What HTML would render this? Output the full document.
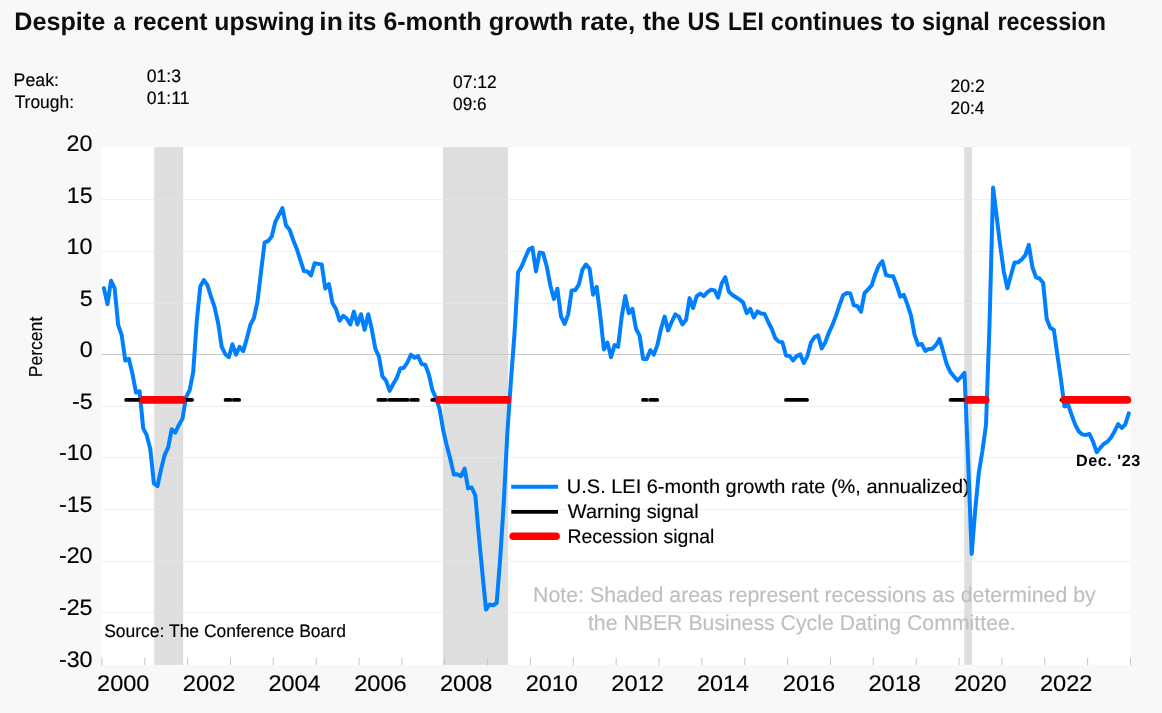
<!DOCTYPE html>
<html lang="en"><head><meta charset="utf-8"><title>US LEI 6-month growth rate</title>
<style>
html,body{margin:0;padding:0;background:#f8f8f8;}
body{width:1162px;height:713px;overflow:hidden;}
svg{display:block;}
text{font-family:"Liberation Sans",Arial,Helvetica,sans-serif;text-rendering:geometricPrecision;}
</style></head><body>
<svg width="1162" height="713" viewBox="0 0 1162 713" role="img" aria-label="US LEI 6-month growth rate chart">
<rect x="0" y="0" width="1162" height="713" fill="#f8f8f8"/>
<rect x="101.5" y="147.2" width="1028.5" height="517.65" fill="#fff"/>
<rect x="154.2" y="147.2" width="29.0" height="517.65" fill="#dedede"/>
<rect x="443.0" y="147.2" width="65.1" height="517.65" fill="#dedede"/>
<rect x="964.2" y="147.2" width="7.7" height="517.65" fill="#dedede"/>
<line x1="101.5" x2="1130.0" y1="199.5" y2="199.5" stroke="#efefef" stroke-width="1"/>
<line x1="154.2" x2="183.2" y1="199.5" y2="199.5" stroke="#e3e3e3" stroke-width="1"/>
<line x1="443.0" x2="508.1" y1="199.5" y2="199.5" stroke="#e3e3e3" stroke-width="1"/>
<line x1="964.2" x2="971.9" y1="199.5" y2="199.5" stroke="#e3e3e3" stroke-width="1"/>
<line x1="101.5" x2="1130.0" y1="251.5" y2="251.5" stroke="#efefef" stroke-width="1"/>
<line x1="154.2" x2="183.2" y1="251.5" y2="251.5" stroke="#e3e3e3" stroke-width="1"/>
<line x1="443.0" x2="508.1" y1="251.5" y2="251.5" stroke="#e3e3e3" stroke-width="1"/>
<line x1="964.2" x2="971.9" y1="251.5" y2="251.5" stroke="#e3e3e3" stroke-width="1"/>
<line x1="101.5" x2="1130.0" y1="303.4" y2="303.4" stroke="#efefef" stroke-width="1"/>
<line x1="154.2" x2="183.2" y1="303.4" y2="303.4" stroke="#e3e3e3" stroke-width="1"/>
<line x1="443.0" x2="508.1" y1="303.4" y2="303.4" stroke="#e3e3e3" stroke-width="1"/>
<line x1="964.2" x2="971.9" y1="303.4" y2="303.4" stroke="#e3e3e3" stroke-width="1"/>
<line x1="101.5" x2="1130.0" y1="406.5" y2="406.5" stroke="#efefef" stroke-width="1"/>
<line x1="154.2" x2="183.2" y1="406.5" y2="406.5" stroke="#e3e3e3" stroke-width="1"/>
<line x1="443.0" x2="508.1" y1="406.5" y2="406.5" stroke="#e3e3e3" stroke-width="1"/>
<line x1="964.2" x2="971.9" y1="406.5" y2="406.5" stroke="#e3e3e3" stroke-width="1"/>
<line x1="101.5" x2="1130.0" y1="457.6" y2="457.6" stroke="#efefef" stroke-width="1"/>
<line x1="154.2" x2="183.2" y1="457.6" y2="457.6" stroke="#e3e3e3" stroke-width="1"/>
<line x1="443.0" x2="508.1" y1="457.6" y2="457.6" stroke="#e3e3e3" stroke-width="1"/>
<line x1="964.2" x2="971.9" y1="457.6" y2="457.6" stroke="#e3e3e3" stroke-width="1"/>
<line x1="101.5" x2="1130.0" y1="509.5" y2="509.5" stroke="#efefef" stroke-width="1"/>
<line x1="154.2" x2="183.2" y1="509.5" y2="509.5" stroke="#e3e3e3" stroke-width="1"/>
<line x1="443.0" x2="508.1" y1="509.5" y2="509.5" stroke="#e3e3e3" stroke-width="1"/>
<line x1="964.2" x2="971.9" y1="509.5" y2="509.5" stroke="#e3e3e3" stroke-width="1"/>
<line x1="101.5" x2="1130.0" y1="561.4" y2="561.4" stroke="#efefef" stroke-width="1"/>
<line x1="154.2" x2="183.2" y1="561.4" y2="561.4" stroke="#e3e3e3" stroke-width="1"/>
<line x1="443.0" x2="508.1" y1="561.4" y2="561.4" stroke="#e3e3e3" stroke-width="1"/>
<line x1="964.2" x2="971.9" y1="561.4" y2="561.4" stroke="#e3e3e3" stroke-width="1"/>
<line x1="101.5" x2="1130.0" y1="612.5" y2="612.5" stroke="#efefef" stroke-width="1"/>
<line x1="154.2" x2="183.2" y1="612.5" y2="612.5" stroke="#e3e3e3" stroke-width="1"/>
<line x1="443.0" x2="508.1" y1="612.5" y2="612.5" stroke="#e3e3e3" stroke-width="1"/>
<line x1="964.2" x2="971.9" y1="612.5" y2="612.5" stroke="#e3e3e3" stroke-width="1"/>
<line x1="101.5" x2="1130.0" y1="354.5" y2="354.5" stroke="#c6c6c6" stroke-width="1"/>
<line x1="101.90" x2="101.90" y1="657.8" y2="665.2" stroke="#c4c4c4" stroke-width="1"/>
<line x1="144.76" x2="144.76" y1="657.8" y2="665.2" stroke="#c4c4c4" stroke-width="1"/>
<line x1="187.62" x2="187.62" y1="657.8" y2="665.2" stroke="#c4c4c4" stroke-width="1"/>
<line x1="230.47" x2="230.47" y1="657.8" y2="665.2" stroke="#c4c4c4" stroke-width="1"/>
<line x1="273.33" x2="273.33" y1="657.8" y2="665.2" stroke="#c4c4c4" stroke-width="1"/>
<line x1="316.19" x2="316.19" y1="657.8" y2="665.2" stroke="#c4c4c4" stroke-width="1"/>
<line x1="359.05" x2="359.05" y1="657.8" y2="665.2" stroke="#c4c4c4" stroke-width="1"/>
<line x1="401.91" x2="401.91" y1="657.8" y2="665.2" stroke="#c4c4c4" stroke-width="1"/>
<line x1="444.77" x2="444.77" y1="657.8" y2="665.2" stroke="#c4c4c4" stroke-width="1"/>
<line x1="487.62" x2="487.62" y1="657.8" y2="665.2" stroke="#c4c4c4" stroke-width="1"/>
<line x1="530.48" x2="530.48" y1="657.8" y2="665.2" stroke="#c4c4c4" stroke-width="1"/>
<line x1="573.34" x2="573.34" y1="657.8" y2="665.2" stroke="#c4c4c4" stroke-width="1"/>
<line x1="616.20" x2="616.20" y1="657.8" y2="665.2" stroke="#c4c4c4" stroke-width="1"/>
<line x1="659.06" x2="659.06" y1="657.8" y2="665.2" stroke="#c4c4c4" stroke-width="1"/>
<line x1="701.92" x2="701.92" y1="657.8" y2="665.2" stroke="#c4c4c4" stroke-width="1"/>
<line x1="744.77" x2="744.77" y1="657.8" y2="665.2" stroke="#c4c4c4" stroke-width="1"/>
<line x1="787.63" x2="787.63" y1="657.8" y2="665.2" stroke="#c4c4c4" stroke-width="1"/>
<line x1="830.49" x2="830.49" y1="657.8" y2="665.2" stroke="#c4c4c4" stroke-width="1"/>
<line x1="873.35" x2="873.35" y1="657.8" y2="665.2" stroke="#c4c4c4" stroke-width="1"/>
<line x1="916.21" x2="916.21" y1="657.8" y2="665.2" stroke="#c4c4c4" stroke-width="1"/>
<line x1="959.07" x2="959.07" y1="657.8" y2="665.2" stroke="#c4c4c4" stroke-width="1"/>
<line x1="1001.92" x2="1001.92" y1="657.8" y2="665.2" stroke="#c4c4c4" stroke-width="1"/>
<line x1="1044.78" x2="1044.78" y1="657.8" y2="665.2" stroke="#c4c4c4" stroke-width="1"/>
<line x1="1087.64" x2="1087.64" y1="657.8" y2="665.2" stroke="#c4c4c4" stroke-width="1"/>
<line x1="1130.50" x2="1130.50" y1="657.8" y2="665.2" stroke="#c4c4c4" stroke-width="1"/>
<text transform="translate(42.0,377.3) rotate(-90) scale(1.0,1.04)" font-size="18" fill="#000" stroke="#000" stroke-width="0.15" textLength="60.6" lengthAdjust="spacingAndGlyphs">Percent</text>
<text y="30.1" font-size="25.3" font-weight="bold" fill="#0d0d0d"><tspan x="14.26" textLength="90.93" lengthAdjust="spacingAndGlyphs">Despite</tspan> <tspan x="113.48" textLength="11.67" lengthAdjust="spacingAndGlyphs">a</tspan> <tspan x="133.21" textLength="74.29" lengthAdjust="spacingAndGlyphs">recent</tspan> <tspan x="214.31" textLength="100.37" lengthAdjust="spacingAndGlyphs">upswing</tspan> <tspan x="319.37" textLength="23.51" lengthAdjust="spacingAndGlyphs">in</tspan> <tspan x="347.70" textLength="28.70" lengthAdjust="spacingAndGlyphs">its</tspan> <tspan x="383.44" textLength="98.26" lengthAdjust="spacingAndGlyphs">6-month</tspan> <tspan x="488.70" textLength="84.36" lengthAdjust="spacingAndGlyphs">growth</tspan> <tspan x="580.02" textLength="55.33" lengthAdjust="spacingAndGlyphs">rate,</tspan> <tspan x="642.65" textLength="37.46" lengthAdjust="spacingAndGlyphs">the</tspan> <tspan x="687.61" textLength="32.53" lengthAdjust="spacingAndGlyphs">US</tspan> <tspan x="728.11" textLength="35.65" lengthAdjust="spacingAndGlyphs">LEI</tspan> <tspan x="770.66" textLength="112.28" lengthAdjust="spacingAndGlyphs">continues</tspan> <tspan x="890.95" textLength="24.17" lengthAdjust="spacingAndGlyphs">to</tspan> <tspan x="922.09" textLength="67.63" lengthAdjust="spacingAndGlyphs">signal</tspan> <tspan x="997.51" textLength="108.37" lengthAdjust="spacingAndGlyphs">recession</tspan></text>
<text transform="translate(13.62,85.80) scale(0.9843,1)" font-size="18.0" fill="#000" stroke="#000" stroke-width="0.15">Peak:</text>
<text transform="translate(14.64,108.00) scale(0.9667,1)" font-size="18.0" fill="#000" stroke="#000" stroke-width="0.15">Trough:</text>
<text transform="translate(146.77,81.60) scale(0.9791,1)" font-size="18.0" fill="#000" stroke="#000" stroke-width="0.15">01:3</text>
<text transform="translate(146.77,103.70) scale(0.9757,1)" font-size="18.0" fill="#000" stroke="#000" stroke-width="0.15">01:11</text>
<text transform="translate(453.07,87.80) scale(0.9683,1)" font-size="18.0" fill="#000" stroke="#000" stroke-width="0.15">07:12</text>
<text transform="translate(453.08,109.80) scale(0.9552,1)" font-size="18.0" fill="#000" stroke="#000" stroke-width="0.15">09:6</text>
<text transform="translate(950.54,92.00) scale(0.9774,1)" font-size="18.0" fill="#000" stroke="#000" stroke-width="0.15">20:2</text>
<text transform="translate(950.55,114.40) scale(0.9665,1)" font-size="18.0" fill="#000" stroke="#000" stroke-width="0.15">20:4</text>
<text transform="translate(104.15,636.80) scale(0.9714,1)" font-size="18.0" fill="#000" stroke="#000" stroke-width="0.15">Source: The Conference Board</text>
<text transform="translate(566.86,492.50) scale(1.0239,1)" font-size="19.5" fill="#000" stroke="#000" stroke-width="0.15">U.S. LEI 6-month growth rate (%, annualized)</text>
<text transform="translate(567.87,517.50) scale(1.0191,1)" font-size="19.5" fill="#000" stroke="#000" stroke-width="0.15">Warning signal</text>
<text transform="translate(567.38,542.60) scale(0.9972,1)" font-size="19.5" fill="#000" stroke="#000" stroke-width="0.15">Recession signal</text>
<text transform="translate(533.07,601.60) scale(0.9912,1)" font-size="21.5" fill="#bfbfbf" stroke="#bfbfbf" stroke-width="0.15">Note: Shaded areas represent recessions as determined by</text>
<text transform="translate(587.93,630.00) scale(0.9890,1)" font-size="21.5" fill="#bfbfbf" stroke="#bfbfbf" stroke-width="0.15">the NBER Business Cycle Dating Committee.</text>
<text transform="translate(1076.08,465.80) scale(1.0000,1)" font-size="16.2" font-weight="bold" letter-spacing="0.504" fill="#000">Dec. '23</text>
<text transform="translate(66.62,151.05) scale(1.0300,1)" font-size="22.6" fill="#000" stroke="#000" stroke-width="0.15">20</text>
<text transform="translate(66.75,202.61) scale(1.0300,1)" font-size="22.6" fill="#000" stroke="#000" stroke-width="0.15">15</text>
<text transform="translate(66.62,254.16) scale(1.0300,1)" font-size="22.6" fill="#000" stroke="#000" stroke-width="0.15">10</text>
<text transform="translate(79.63,305.72) scale(1.0300,1)" font-size="22.6" fill="#000" stroke="#000" stroke-width="0.15">5</text>
<text transform="translate(79.63,357.27) scale(1.0300,1)" font-size="22.6" fill="#000" stroke="#000" stroke-width="0.15">0</text>
<text transform="translate(71.90,408.82) scale(1.0300,1)" font-size="22.6" fill="#000" stroke="#000" stroke-width="0.15">-5</text>
<text transform="translate(58.90,460.38) scale(1.0300,1)" font-size="22.6" fill="#000" stroke="#000" stroke-width="0.15">-10</text>
<text transform="translate(58.90,511.94) scale(1.0300,1)" font-size="22.6" fill="#000" stroke="#000" stroke-width="0.15">-15</text>
<text transform="translate(58.90,563.49) scale(1.0300,1)" font-size="22.6" fill="#000" stroke="#000" stroke-width="0.15">-20</text>
<text transform="translate(58.90,615.05) scale(1.0300,1)" font-size="22.6" fill="#000" stroke="#000" stroke-width="0.15">-25</text>
<text transform="translate(58.90,666.60) scale(1.0300,1)" font-size="22.6" fill="#000" stroke="#000" stroke-width="0.15">-30</text>
<text transform="translate(97.06,690.90) scale(1.0404,1)" font-size="22.6" fill="#000" stroke="#000" stroke-width="0.15">2000</text>
<text transform="translate(182.77,690.90) scale(1.0458,1)" font-size="22.6" fill="#000" stroke="#000" stroke-width="0.15">2002</text>
<text transform="translate(268.50,690.90) scale(1.0351,1)" font-size="22.6" fill="#000" stroke="#000" stroke-width="0.15">2004</text>
<text transform="translate(354.21,690.90) scale(1.0431,1)" font-size="22.6" fill="#000" stroke="#000" stroke-width="0.15">2006</text>
<text transform="translate(439.92,690.90) scale(1.0431,1)" font-size="22.6" fill="#000" stroke="#000" stroke-width="0.15">2008</text>
<text transform="translate(525.64,690.90) scale(1.0404,1)" font-size="22.6" fill="#000" stroke="#000" stroke-width="0.15">2010</text>
<text transform="translate(611.35,690.90) scale(1.0458,1)" font-size="22.6" fill="#000" stroke="#000" stroke-width="0.15">2012</text>
<text transform="translate(697.08,690.90) scale(1.0351,1)" font-size="22.6" fill="#000" stroke="#000" stroke-width="0.15">2014</text>
<text transform="translate(782.79,690.90) scale(1.0431,1)" font-size="22.6" fill="#000" stroke="#000" stroke-width="0.15">2016</text>
<text transform="translate(868.51,690.90) scale(1.0431,1)" font-size="22.6" fill="#000" stroke="#000" stroke-width="0.15">2018</text>
<text transform="translate(954.23,690.90) scale(1.0404,1)" font-size="22.6" fill="#000" stroke="#000" stroke-width="0.15">2020</text>
<text transform="translate(1039.94,690.90) scale(1.0458,1)" font-size="22.6" fill="#000" stroke="#000" stroke-width="0.15">2022</text>
<polyline fill="none" stroke="#0080ff" stroke-width="4" stroke-linejoin="round" stroke-linecap="round" points="103.9,288.1 107.5,304.2 111.0,280.7 114.6,288.1 118.2,325.2 121.7,335.2 125.3,360.6 128.9,358.9 132.5,374.0 136.0,392.6 139.6,391.2 143.2,428.3 146.7,435.2 150.3,449.0 153.9,483.5 157.5,486.1 161.0,469.7 164.6,455.1 168.2,447.3 171.7,429.2 175.3,432.6 178.9,424.9 182.5,418.8 186.0,397.3 189.6,390.4 193.2,372.0 196.7,321.8 200.3,286.4 203.9,280.0 207.4,285.2 211.0,296.7 214.6,307.1 218.2,323.5 221.7,346.8 225.3,354.2 228.9,357.1 232.4,344.2 236.0,354.6 239.6,346.8 243.2,351.1 246.7,339.0 250.3,324.9 253.9,318.0 257.4,302.0 261.0,272.0 264.6,242.6 268.2,240.9 271.7,236.6 275.3,221.9 278.9,215.0 282.4,208.1 286.0,225.4 289.6,229.7 293.2,240.0 296.7,248.7 300.3,259.9 303.9,271.1 307.4,271.4 311.0,275.4 314.6,263.3 318.2,263.9 321.7,264.5 325.3,288.4 328.9,284.0 332.4,303.0 336.0,309.1 339.6,320.7 343.2,315.9 346.7,318.5 350.3,324.5 353.9,311.6 357.4,324.5 361.0,314.2 364.6,329.7 368.2,314.2 371.7,328.8 375.3,348.7 378.9,356.4 382.4,376.3 386.0,380.6 389.6,390.9 393.2,384.0 396.7,378.0 400.3,368.5 403.9,367.7 407.4,362.5 411.0,354.7 414.6,357.8 418.1,356.1 421.7,364.2 425.3,364.7 428.9,374.6 432.4,390.1 436.0,397.9 439.6,409.0 443.1,429.7 446.7,445.2 450.3,459.0 453.9,474.6 457.4,474.2 461.0,476.3 464.6,468.5 468.1,488.4 471.7,487.5 475.3,495.3 478.9,536.2 482.4,573.3 486.0,609.6 489.6,604.4 493.1,605.3 496.7,603.0 500.3,557.0 503.9,500.0 507.4,432.0 511.0,380.0 514.6,332.0 518.1,272.3 521.7,266.2 525.3,257.6 528.9,249.3 532.4,247.6 536.0,271.4 539.6,252.4 543.1,253.3 546.7,266.2 550.3,285.2 553.9,299.0 557.4,288.7 561.0,316.3 564.6,324.0 568.1,314.6 571.7,290.4 575.3,290.1 578.9,284.4 582.4,269.7 586.0,264.5 589.6,268.8 593.1,294.7 596.7,286.9 600.3,316.0 603.9,349.4 607.4,342.5 611.0,357.1 614.6,345.1 618.1,346.8 621.7,316.6 625.3,295.9 628.8,313.1 632.4,308.8 636.0,328.7 639.6,335.6 643.1,358.9 646.7,358.9 650.3,350.2 653.8,354.6 657.4,345.1 661.0,328.7 664.6,316.6 668.1,330.4 671.7,321.8 675.3,314.3 678.8,316.6 682.4,324.4 686.0,320.0 689.6,298.1 693.1,308.0 696.7,296.2 700.3,293.6 703.8,296.2 707.4,292.1 711.0,289.8 714.6,290.4 718.1,297.6 721.7,283.5 725.3,277.2 728.8,291.6 732.4,295.0 736.0,297.3 739.6,299.7 743.1,302.4 746.7,313.1 750.3,308.8 753.8,317.5 757.4,311.4 761.0,313.5 764.6,314.0 768.1,321.8 771.7,328.7 775.3,338.2 778.8,341.6 782.4,342.3 786.0,355.6 789.6,356.1 793.1,360.4 796.7,356.1 800.3,354.4 803.8,363.0 807.4,356.1 811.0,342.3 814.6,337.1 818.1,335.4 821.7,348.4 825.3,342.3 828.8,332.8 832.4,325.1 836.0,315.6 839.5,305.2 843.1,295.2 846.7,293.1 850.3,293.5 853.8,305.2 857.4,306.1 861.0,311.8 864.5,293.1 868.1,289.3 871.7,285.4 875.3,274.2 878.8,265.5 882.4,261.2 886.0,275.0 889.5,275.9 893.1,276.2 896.7,285.4 900.3,296.6 903.8,294.9 907.4,304.4 911.0,315.6 914.5,334.6 918.1,344.9 921.7,344.0 925.3,350.9 928.8,348.9 932.4,348.7 936.0,344.9 939.5,338.9 943.1,351.2 946.7,364.2 950.3,371.9 953.8,376.2 957.4,380.6 961.0,377.1 964.5,372.8 968.1,460.0 971.7,553.9 975.3,509.0 978.8,472.8 982.4,451.0 986.0,425.0 989.5,325.0 993.1,187.6 996.7,217.0 1000.3,246.3 1003.8,271.6 1007.4,288.3 1011.0,275.0 1014.5,262.6 1018.1,262.4 1021.7,259.5 1025.3,255.2 1028.8,244.8 1032.4,267.3 1036.0,277.3 1039.5,278.5 1043.1,282.8 1046.7,319.0 1050.2,327.7 1053.8,329.7 1057.4,355.0 1061.0,380.0 1064.5,406.4 1068.1,404.7 1071.7,415.1 1075.2,424.6 1078.8,431.5 1082.4,434.6 1086.0,434.9 1089.5,434.0 1093.1,441.8 1096.7,452.2 1100.2,447.9 1103.8,443.9 1107.4,441.8 1111.0,437.5 1114.5,431.5 1118.1,424.0 1121.7,428.0 1125.2,424.6 1128.8,413.3"/>
<line x1="126.2" x2="192.1" y1="399.9" y2="399.9" stroke="#000" stroke-width="3.9" stroke-linecap="round"/>
<line x1="225.6" x2="230.7" y1="399.9" y2="399.9" stroke="#000" stroke-width="3.9" stroke-linecap="round"/>
<line x1="233.9" x2="239.1" y1="399.9" y2="399.9" stroke="#000" stroke-width="3.9" stroke-linecap="round"/>
<line x1="378.4" x2="385.8" y1="399.9" y2="399.9" stroke="#000" stroke-width="3.9" stroke-linecap="round"/>
<line x1="389.2" x2="407.8" y1="399.9" y2="399.9" stroke="#000" stroke-width="3.9" stroke-linecap="round"/>
<line x1="411.2" x2="417.8" y1="399.9" y2="399.9" stroke="#000" stroke-width="3.9" stroke-linecap="round"/>
<line x1="432.3" x2="435.1" y1="399.9" y2="399.9" stroke="#000" stroke-width="3.9" stroke-linecap="round"/>
<line x1="643.0" x2="646.6" y1="399.9" y2="399.9" stroke="#000" stroke-width="3.9" stroke-linecap="round"/>
<line x1="650.2" x2="657.2" y1="399.9" y2="399.9" stroke="#000" stroke-width="3.9" stroke-linecap="round"/>
<line x1="786.0" x2="807.0" y1="399.9" y2="399.9" stroke="#000" stroke-width="3.9" stroke-linecap="round"/>
<line x1="950.6" x2="965.0" y1="399.9" y2="399.9" stroke="#000" stroke-width="3.9" stroke-linecap="round"/>
<line x1="1061.5" x2="1062.0" y1="399.9" y2="399.9" stroke="#000" stroke-width="3.9" stroke-linecap="round"/>
<line x1="143.1" x2="182.2" y1="399.9" y2="399.9" stroke="#ff0000" stroke-width="7.6" stroke-linecap="round"/>
<line x1="439.1" x2="507.4" y1="399.9" y2="399.9" stroke="#ff0000" stroke-width="7.6" stroke-linecap="round"/>
<line x1="968.2" x2="985.8" y1="399.9" y2="399.9" stroke="#ff0000" stroke-width="7.6" stroke-linecap="round"/>
<line x1="1064.4" x2="1127.4" y1="399.9" y2="399.9" stroke="#ff0000" stroke-width="7.6" stroke-linecap="round"/>
<line x1="513.2" x2="556.05" y1="486.85" y2="486.85" stroke="#0080ff" stroke-width="4" stroke-linecap="square"/>
<line x1="513.2" x2="556.05" y1="511.85" y2="511.85" stroke="#000" stroke-width="3.9" stroke-linecap="square"/>
<line x1="513.2" x2="556.1" y1="536.25" y2="536.25" stroke="#ff0000" stroke-width="7.6" stroke-linecap="round"/>
</svg>
</body></html>
